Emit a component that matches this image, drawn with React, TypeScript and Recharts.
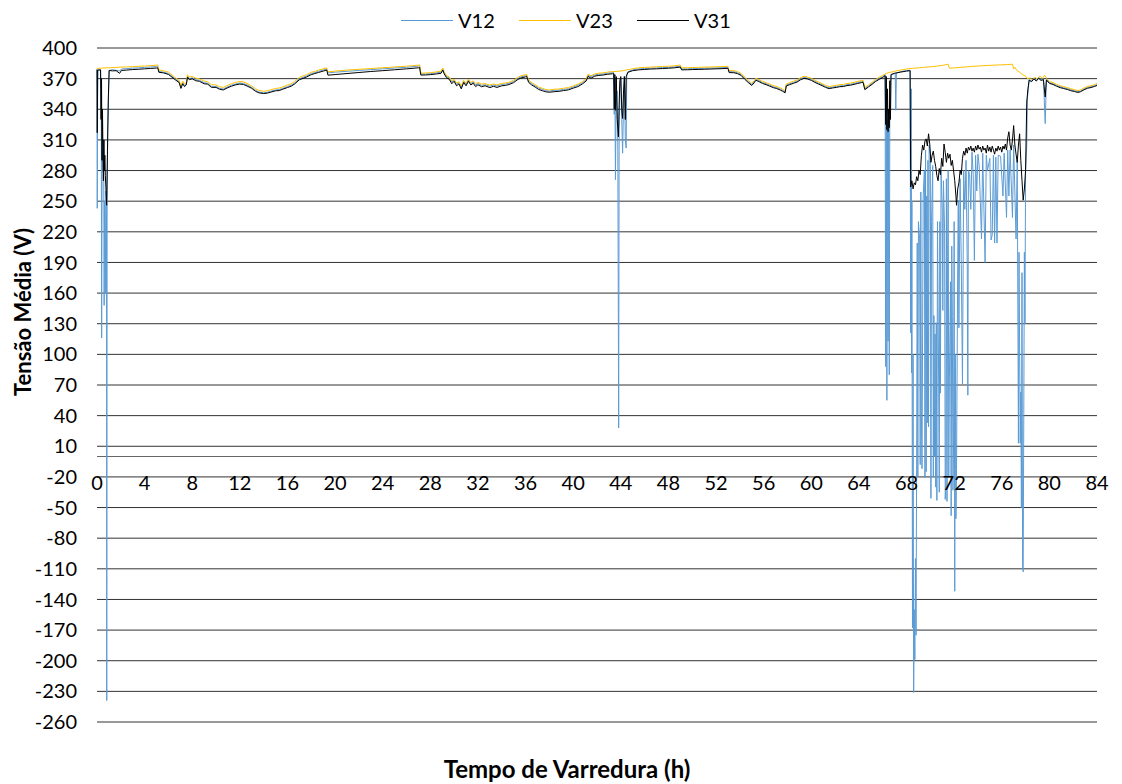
import React from 'react';
import { LineChart, Line, XAxis, YAxis, CartesianGrid, ReferenceLine, Legend } from 'recharts';

type Pt = [number, number];

const hourTicks = [0, 4, 8, 12, 16, 20, 24, 28, 32, 36, 40, 44, 48, 52, 56, 60, 64, 68, 72, 76, 80, 84];
const voltTicks = [400, 370, 340, 310, 280, 250, 220, 190, 160, 130, 100, 70, 40, 10, -20, -50, -80, -110, -140, -170, -200, -230, -260];

// [hora, tensão] — V23
const v23Points: Pt[] = [
  [0, 380], [0.5, 380.4], [1, 380.6], [1.5, 380.9], [2, 381.3], [2.5, 381.4], [3, 381.8], [3.5, 382.1], [4, 382.3], [4.5, 382.7],
  [5, 383.2], [5.1, 383.4], [5.2, 378.6], [5.6, 377.6], [6, 376.4], [6.3, 373.5], [6.6, 370.8], [6.9, 368.2], [7.05, 363], [7.2, 367.5],
  [7.35, 364.8], [7.5, 366], [7.6, 373.8], [7.75, 371.5], [8, 372.2], [8.3, 370.4], [8.6, 369.8], [9, 367.6], [9.3, 366.9], [9.6, 364.2],
  [10, 363.8], [10.3, 362.1], [10.6, 361.4], [11, 363.6], [11.3, 365.2], [11.6, 366.1], [12, 367.2], [12.3, 366.8], [12.6, 365.4], [13, 362.8],
  [13.3, 360.2], [13.6, 358.4], [14, 357.6], [14.3, 358.2], [14.6, 359.1], [15, 360.4], [15.3, 360.8], [15.6, 361.9], [16, 363.8], [16.3, 364.9],
  [16.6, 367.2], [17, 371.2], [17.3, 372.6], [17.6, 373.9], [18, 376.2], [18.3, 377.1], [18.6, 378.3], [19, 379.6], [19.3, 380.6], [19.4, 376.6],
  [20, 377.4], [20.5, 377.9], [21, 378.4], [21.5, 378.7], [22, 379.2], [22.5, 379.5], [23, 379.9], [23.5, 380.3], [24, 380.7], [24.5, 381],
  [25, 381.4], [25.5, 381.8], [26, 382.2], [26.5, 382.7], [27, 383.2], [27.1, 383.5], [27.2, 375.4], [27.6, 375.5], [28, 375.8], [28.5, 376.6],
  [28.9, 377.4], [29.05, 380.4], [29.15, 377], [29.35, 373.2], [29.6, 371.6], [29.8, 367.8], [30, 369.4], [30.2, 365.6], [30.4, 366.9], [30.6, 362.8],
  [30.8, 368.3], [31, 365.4], [31.2, 369.6], [31.4, 366.2], [31.6, 367.8], [31.8, 364.9], [32, 366.3], [32.3, 364.6], [32.6, 365.1], [33, 363.7],
  [33.3, 364.8], [33.6, 363.9], [34, 365.3], [34.3, 365.8], [34.6, 366.4], [35, 368.4], [35.3, 370.9], [35.6, 372.8], [36, 373.9], [36.1, 374.2],
  [36.25, 368.5], [36.5, 366.2], [36.8, 364.1], [37.1, 361.8], [37.4, 360.6], [37.7, 359.3], [38, 358.9], [38.4, 359.6], [38.8, 359.8], [39.2, 360.6],
  [39.6, 361.2], [40, 362.9], [40.4, 364.6], [40.8, 367.2], [41.1, 370.1], [41.25, 374.3], [41.5, 372.8], [41.8, 374.6], [42.1, 375.3], [42.5, 375.6],
  [42.9, 376.4], [43.3, 376.9], [43.7, 377.1], [44.1, 377.6], [44.5, 378.6], [45, 379.7], [45.5, 380.6], [46, 381], [46.5, 381.3], [47, 381.6],
  [47.5, 381.9], [48, 382.1], [48.5, 382.6], [49, 383.3], [49.1, 380.6], [49.6, 380.7], [50, 380.9], [50.5, 381], [51, 381.3], [51.5, 381.4],
  [52, 381.6], [52.5, 381.8], [53, 382.1], [53.1, 377.9], [53.5, 377.8], [53.8, 376.9], [54.1, 375.2], [54.4, 371.5], [54.7, 368.2], [55, 365.3],
  [55.2, 367.9], [55.35, 370.4], [55.6, 369.1], [55.9, 367.3], [56.2, 366.1], [56.5, 364.7], [56.8, 363.2], [57.1, 362.3], [57.4, 360.8], [57.6, 359.6],
  [57.8, 358.1], [57.9, 364.8], [58.2, 366.2], [58.5, 367.4], [58.8, 368.6], [59.1, 370.9], [59.4, 372.3], [59.7, 371.6], [60, 370.3], [60.3, 368.4],
  [60.6, 366.7], [60.9, 365.2], [61.2, 363.4], [61.5, 362.2], [61.8, 362.9], [62.1, 363.4], [62.4, 364.1], [62.7, 364.3], [63, 365.2], [63.3, 365.6],
  [63.6, 366.4], [63.9, 367.3], [64.2, 368.1], [64.35, 368.4], [64.5, 361.2], [64.8, 363.8], [65.1, 366.4], [65.4, 369.2], [65.7, 371.3], [66, 373.1],
  [66.3, 375.2], [66.6, 376.1], [67, 377.2], [67.5, 378.4], [68, 379.4], [68.5, 380.1], [69, 380.5], [69.5, 381.1], [70, 381.6], [70.5, 382.2],
  [71, 382.9], [71.5, 384.1], [71.6, 380.2], [72, 380.5], [72.5, 381], [73, 381.5], [73.5, 382], [74, 382.4], [74.5, 382.7], [75, 383],
  [75.5, 383.3], [76, 383.5], [76.5, 383.8], [76.9, 384.1], [77, 379.5], [77.1, 381.2], [77.25, 378.3], [77.5, 376.2], [77.8, 373.6], [78, 372.4],
  [78.2, 369.6], [78.4, 370.8], [78.6, 368.4], [78.8, 371.5], [79, 369.2], [79.2, 372.4], [79.4, 370.1], [79.6, 373.3], [79.8, 369.8], [80, 367.2],
  [80.3, 366.1], [80.6, 364.4], [80.9, 363.1], [81.2, 362.2], [81.5, 361.3], [81.8, 360.1], [82.1, 359.2], [82.4, 358.3], [82.6, 358.9], [82.9, 360.8],
  [83.2, 362.4], [83.5, 363.1], [83.8, 364.2], [84, 365.1],
];

// V12
const v12Points: Pt[] = [
  [0, 378.6], [0.02, 243], [0.06, 378.2], [0.3, 378.5], [0.36, 330], [0.39, 116], [0.43, 300], [0.5, 280], [0.56, 310], [0.6, 148],
  [0.64, 250], [0.7, 160], [0.74, 260], [0.8, 240], [0.82, -239], [0.85, 250], [0.9, 320], [0.96, 350], [1.02, 378], [1.3, 378.8],
  [1.9, 377.5], [2.05, 379.4], [2.5, 379.8], [3, 380.3], [3.5, 380.6], [4, 381], [4.5, 381.4], [5, 381.8], [5.1, 382], [5.2, 377],
  [5.6, 376.3], [6, 375], [6.3, 372.2], [6.6, 369.4], [6.9, 367], [7.05, 361.4], [7.2, 366], [7.35, 363.2], [7.5, 364.6], [7.6, 372.4],
  [7.75, 370], [8, 370.8], [8.3, 368.9], [8.6, 368.3], [9, 366], [9.3, 365.4], [9.6, 362.5], [10, 362.3], [10.3, 360.5], [10.6, 359.8],
  [11, 362.1], [11.3, 363.6], [11.6, 364.6], [12, 365.7], [12.3, 365.3], [12.6, 363.9], [13, 361.3], [13.3, 358.6], [13.6, 356.9], [14, 356.1],
  [14.3, 356.6], [14.6, 357.6], [15, 358.9], [15.3, 359.3], [15.6, 360.4], [16, 362.3], [16.3, 363.4], [16.6, 365.7], [17, 369.8], [17.3, 371.2],
  [17.6, 372.6], [18, 374.9], [18.3, 375.9], [18.6, 377.1], [19, 378.4], [19.3, 379.4], [19.4, 375.6], [20, 376.3], [21, 377.2], [22, 378],
  [23, 378.8], [24, 379.6], [25, 380.4], [26, 381.1], [27, 382.3], [27.1, 382.6], [27.2, 374.5], [27.6, 374.6], [28, 374.9], [28.5, 375.6],
  [28.9, 376.4], [29.05, 379.3], [29.15, 376], [29.35, 372.2], [29.6, 370.4], [29.8, 366.6], [30, 368.3], [30.2, 364.4], [30.4, 365.9], [30.6, 361.7],
  [30.8, 367.3], [31, 364.3], [31.2, 368.5], [31.4, 365.1], [31.6, 366.7], [31.8, 363.7], [32, 365.2], [32.3, 363.5], [32.6, 364], [33, 362.6],
  [33.3, 363.7], [33.6, 362.8], [34, 364.2], [34.3, 364.7], [34.6, 365.3], [35, 367.3], [35.3, 369.8], [35.6, 371.7], [36, 372.8], [36.1, 373.1],
  [36.25, 367.4], [36.5, 365.1], [36.8, 363], [37.1, 360.7], [37.4, 359.5], [37.7, 358.2], [38, 357.8], [38.4, 358.5], [38.8, 358.7], [39.2, 359.5],
  [39.6, 360.1], [40, 361.8], [40.4, 363.5], [40.8, 366.1], [41.1, 369], [41.25, 373.2], [41.5, 371.7], [41.8, 373.5], [42.1, 374.2], [42.5, 374.5],
  [42.9, 375.3], [43.3, 375.8], [43.4, 376], [43.45, 335], [43.5, 370], [43.55, 271], [43.6, 340], [43.68, 358], [43.75, 300], [43.82, 28],
  [43.86, 320], [43.92, 360], [44, 370], [44.08, 330], [44.15, 297], [44.22, 340], [44.3, 372], [44.38, 310], [44.45, 302], [44.5, 374],
  [44.6, 376.8], [45, 378.6], [45.5, 379.5], [46, 379.9], [46.5, 380.2], [47, 380.5], [47.5, 380.8], [48, 381], [48.5, 381.5], [49, 382.2],
  [49.1, 379.5], [49.6, 379.6], [50, 379.8], [50.5, 379.9], [51, 380.2], [51.5, 380.3], [52, 380.5], [52.5, 380.7], [53, 381], [53.1, 376.8],
  [53.5, 376.7], [53.8, 375.8], [54.1, 374.1], [54.4, 370.4], [54.7, 367.1], [55, 364.2], [55.2, 366.8], [55.35, 369.3], [55.6, 368], [55.9, 366.2],
  [56.2, 365], [56.5, 363.6], [56.8, 362.1], [57.1, 361.2], [57.4, 359.7], [57.6, 358.5], [57.8, 357], [57.9, 363.7], [58.2, 365.1], [58.5, 366.3],
  [58.8, 367.5], [59.1, 369.8], [59.4, 371.2], [59.7, 370.5], [60, 369.2], [60.3, 367.3], [60.6, 365.6], [60.9, 364.1], [61.2, 362.3], [61.5, 361.1],
  [61.8, 361.8], [62.1, 362.3], [62.4, 363], [62.7, 363.2], [63, 364.1], [63.3, 364.5], [63.6, 365.3], [63.9, 366.2], [64.2, 367], [64.35, 367.3],
  [64.5, 360.1], [64.8, 362.7], [65.1, 365.3], [65.4, 368.1], [65.7, 370.2], [66, 372], [66.2, 373.8], [66.25, 88], [66.3, 340], [66.35, 55],
  [66.4, 330], [66.45, 113], [66.5, 330], [66.55, 80], [66.6, 360], [66.7, 374], [67.05, 375], [67.1, 339], [67.15, 375.4], [67.5, 376.8],
  [68, 377.8], [68.3, 378], [68.35, 121], [68.4, 360], [68.42, 82], [68.45, 250], [68.5, -168], [68.55, 100], [68.6, -231], [68.65, -150],
  [68.7, -199], [68.75, -100], [68.8, -175], [68.85, -2], [68.9, 209], [68.95, -20], [69, 230], [69.1, 213], [69.15, -8], [69.2, 259],
  [69.25, 40], [69.3, -12], [69.4, 255], [69.5, 280], [69.55, -21], [69.6, 300], [69.65, -15], [69.7, 255], [69.75, 33], [69.8, 290],
  [69.85, 29], [69.9, 305], [70, 295], [70.05, -41], [70.1, 230], [70.2, 285], [70.25, -20], [70.3, 138], [70.35, 0], [70.4, 120],
  [70.45, -30], [70.5, 131], [70.55, -43], [70.6, 230], [70.7, 71], [70.75, -35], [70.8, 230], [70.85, 62], [70.9, 280], [71, 242],
  [71.05, 143], [71.1, 270], [71.2, 221], [71.25, -42], [71.3, -30], [71.35, 272], [71.4, -44], [71.45, 196], [71.5, 280], [71.55, -20],
  [71.6, 75], [71.7, 171], [71.75, -58], [71.8, 206], [71.85, 137], [71.9, -33], [71.95, 10], [72, 230], [72.05, -132], [72.1, 100],
  [72.15, -61], [72.2, -13], [72.3, 187], [72.35, 251], [72.4, 126], [72.5, 272], [72.6, 188], [72.7, 71], [72.8, 280], [72.9, 242],
  [73, 290], [73.1, 189], [73.15, 60], [73.2, 280], [73.3, 276], [73.4, 242], [73.5, 298], [73.6, 276], [73.7, 192], [73.8, 295],
  [73.9, 260], [74, 296], [74.1, 285], [74.3, 213], [74.4, 297], [74.6, 190], [74.7, 295], [74.8, 280], [75, 292], [75.1, 212],
  [75.2, 217], [75.3, 295], [75.4, 209], [75.5, 293], [75.6, 209], [75.7, 295], [75.9, 294], [76.1, 255], [76.2, 297], [76.4, 234],
  [76.5, 300], [76.6, 255], [76.7, 300], [76.9, 234], [77, 305], [77.2, 213], [77.3, 290], [77.4, 13], [77.45, 200], [77.55, 13],
  [77.6, 63], [77.65, -50], [77.7, 180], [77.75, -108], [77.8, -113], [77.85, 42], [77.9, 200], [77.95, 130], [78, 280], [78.1, 305],
  [78.15, 350], [78.3, 369], [78.5, 367.8], [78.7, 370.6], [78.9, 368.4], [79.1, 371.2], [79.3, 369], [79.5, 369.8], [79.65, 326], [79.75, 369.4],
  [80, 366.2], [80.3, 365.1], [80.6, 363.4], [80.9, 362.1], [81.2, 361.1], [81.5, 360.3], [81.8, 359.1], [82.1, 358.2], [82.4, 357.3], [82.6, 357.9],
  [82.9, 359.8], [83.2, 361.4], [83.5, 362.1], [83.8, 363.2], [84, 364.2],
];

// V31
const v31Points: Pt[] = [
  [0, 379], [0.02, 317], [0.06, 378.4], [0.3, 378.6], [0.34, 330], [0.38, 370], [0.42, 290], [0.46, 340], [0.5, 300], [0.54, 270],
  [0.58, 310], [0.62, 280], [0.66, 295], [0.7, 275], [0.76, 260], [0.81, 246], [0.88, 300], [0.95, 350], [1.02, 378], [1.3, 377.6],
  [1.6, 377.8], [1.9, 375.2], [2.05, 378], [2.5, 378.4], [3, 378.9], [3.5, 379.2], [4, 379.6], [4.5, 380], [5, 380.4], [5.1, 380.6],
  [5.2, 376.2], [5.6, 375.6], [6, 374.1], [6.3, 371.4], [6.6, 368.6], [6.9, 366.2], [7.05, 360.4], [7.2, 365], [7.35, 362.2], [7.5, 363.8],
  [7.6, 371.5], [7.75, 369], [8, 369.8], [8.3, 367.9], [8.6, 367.4], [9, 365], [9.3, 364.6], [9.6, 361.5], [10, 361.4], [10.3, 359.6],
  [10.6, 358.9], [11, 361.2], [11.3, 362.6], [11.6, 363.8], [12, 364.7], [12.3, 364.3], [12.6, 362.8], [13, 360.5], [13.3, 357.7], [13.6, 356.1],
  [14, 355.4], [14.3, 355.8], [14.6, 356.8], [15, 358.1], [15.3, 358.3], [15.6, 359.6], [16, 361.3], [16.3, 362.5], [16.6, 364.8], [17, 368.9],
  [17.3, 370.2], [17.6, 371.6], [18, 373.9], [18.3, 375], [18.6, 376], [19, 377.4], [19.3, 378.4], [19.4, 373.4], [20, 374], [21, 375],
  [22, 376], [23, 377], [24, 377.8], [25, 378.7], [26, 379.6], [27, 380.6], [27.1, 380.9], [27.2, 373.5], [27.6, 373.6], [28, 373.9],
  [28.5, 374.6], [28.9, 375.2], [29.05, 378.4], [29.15, 375], [29.35, 371], [29.6, 369.2], [29.8, 365], [30, 367.4], [30.2, 363], [30.4, 364.8],
  [30.6, 360], [30.8, 366.2], [31, 363], [31.2, 367.5], [31.4, 363.8], [31.6, 365.5], [31.8, 362.2], [32, 364], [32.3, 362.1], [32.6, 363],
  [33, 361.2], [33.3, 362.5], [33.6, 361.4], [34, 363], [34.3, 363.4], [34.6, 364.2], [35, 366.1], [35.3, 368.8], [35.6, 370.6], [36, 371.8],
  [36.1, 372.1], [36.25, 366.4], [36.5, 363.9], [36.8, 361.8], [37.1, 359.4], [37.4, 358.2], [37.7, 357.1], [38, 356.7], [38.4, 357.2], [38.8, 357.6],
  [39.2, 358.3], [39.6, 359], [40, 360.7], [40.4, 362.2], [40.8, 365], [41.1, 367.8], [41.25, 372.2], [41.5, 370.4], [41.8, 372.4], [42.1, 373.1],
  [42.5, 373.5], [42.9, 374.3], [43.3, 374.8], [43.4, 375], [43.45, 340], [43.5, 374], [43.55, 339], [43.62, 372], [43.7, 330], [43.8, 313],
  [43.86, 345], [43.92, 368], [44, 372], [44.08, 340], [44.15, 331], [44.22, 355], [44.3, 372], [44.38, 330], [44.45, 372], [44.6, 376.2],
  [45, 377.8], [45.5, 378.6], [46, 379], [46.5, 379.4], [47, 379.6], [47.5, 379.9], [48, 380.2], [48.5, 380.6], [49, 381.3], [49.1, 378.6],
  [49.6, 378.7], [50, 378.9], [50.5, 379], [51, 379.2], [51.5, 379.4], [52, 379.6], [52.5, 379.8], [53, 380.1], [53.1, 375.9], [53.5, 375.8],
  [53.8, 374.9], [54.1, 373.2], [54.4, 369.5], [54.7, 366.2], [55, 363.3], [55.2, 365.9], [55.35, 368.4], [55.6, 367.1], [55.9, 365.3], [56.2, 364.1],
  [56.5, 362.7], [56.8, 361.2], [57.1, 360.3], [57.4, 358.8], [57.6, 357.6], [57.8, 356.1], [57.9, 362.8], [58.2, 364.2], [58.5, 365.4], [58.8, 366.6],
  [59.1, 368.9], [59.4, 370.3], [59.7, 369.6], [60, 368.3], [60.3, 366.4], [60.6, 364.7], [60.9, 363.2], [61.2, 361.4], [61.5, 360.2], [61.8, 360.9],
  [62.1, 361.4], [62.4, 362.1], [62.7, 362.3], [63, 363.2], [63.3, 363.6], [63.6, 364.4], [63.9, 365.3], [64.2, 366.1], [64.35, 366.4], [64.5, 359.2],
  [64.8, 361.8], [65.1, 364.4], [65.4, 367.2], [65.7, 369.3], [66, 371.1], [66.2, 373], [66.25, 325], [66.3, 372], [66.35, 320], [66.4, 360],
  [66.45, 318], [66.5, 340], [66.55, 322], [66.6, 368], [66.65, 330], [66.7, 374], [67, 375.3], [67.5, 376.4], [68, 377.4], [68.3, 377.8],
  [68.35, 264], [68.45, 270], [68.55, 262], [68.65, 268], [68.75, 266], [68.85, 274], [68.95, 270], [69.05, 280], [69.15, 276], [69.25, 295],
  [69.35, 305], [69.45, 300], [69.55, 309], [69.65, 311], [69.75, 304], [69.85, 316], [69.95, 306], [70.05, 288], [70.15, 295], [70.25, 299],
  [70.35, 290], [70.45, 284], [70.55, 275], [70.65, 270], [70.75, 282], [70.85, 276], [70.95, 292], [71.05, 284], [71.15, 306], [71.25, 298],
  [71.35, 288], [71.45, 297], [71.55, 292], [71.65, 296], [71.75, 285], [71.85, 290], [71.95, 280], [72.05, 270], [72.15, 255], [72.2, 246],
  [72.3, 262], [72.4, 268], [72.5, 280], [72.6, 276], [72.7, 292], [72.8, 299], [72.9, 295], [73, 302], [73.1, 297], [73.2, 303],
  [73.3, 300], [73.4, 304], [73.5, 299], [73.6, 302], [73.7, 298], [73.8, 304], [73.9, 300], [74, 305], [74.1, 301], [74.2, 303],
  [74.3, 298], [74.4, 304], [74.5, 300], [74.6, 302], [74.7, 297], [74.8, 305], [74.9, 299], [75, 303], [75.1, 298], [75.2, 304],
  [75.3, 300], [75.4, 296], [75.5, 302], [75.6, 299], [75.7, 304], [75.8, 300], [75.9, 303], [76, 298], [76.1, 304], [76.2, 301],
  [76.3, 306], [76.4, 300], [76.5, 312], [76.6, 318], [76.7, 305], [76.8, 300], [76.9, 310], [77, 324], [77.1, 305], [77.2, 296],
  [77.3, 288], [77.4, 305], [77.5, 316], [77.6, 290], [77.7, 270], [77.8, 251], [77.9, 262], [78, 280], [78.1, 347], [78.2, 360],
  [78.3, 368.5], [78.5, 367], [78.7, 369.8], [78.9, 367.6], [79.1, 370.4], [79.3, 368.2], [79.5, 369], [79.65, 352], [79.75, 368.6], [80, 365.4],
  [80.3, 364.3], [80.6, 362.6], [80.9, 361.2], [81.2, 360.3], [81.5, 359.4], [81.8, 358.2], [82.1, 357.4], [82.4, 356.5], [82.6, 357.1], [82.9, 359],
  [83.2, 360.6], [83.5, 361.3], [83.8, 362.4], [84, 363.3],
];

const series = [
  { name: 'V12', color: '#5B9BD5', points: v12Points },
  { name: 'V23', color: '#FFC000', points: v23Points },
  { name: 'V31', color: '#000000', points: v31Points },
];

const FONT = 'Lato, "Open Sans", sans-serif';
const CHART_W = 1114;
const CHART_H = 776;
const PLOT_TOP = 40;
const PLOT_H = 674;
const Y_MIN = -260;
const Y_MAX = 400;
// where the 0 V line sits; the hour labels hang under it
const ZERO_Y = PLOT_TOP + (PLOT_H * Y_MAX) / (Y_MAX - Y_MIN);

const toRows = (pts: Pt[]) => pts.map(([h, v]) => ({ h, v }));

const HourTick = (props: any) => {
  const { x, payload } = props;
  return (
    <text x={x} y={ZERO_Y + 34} textAnchor="middle" fontSize={20} fontFamily={FONT} fill="#000">
      {payload.value}
    </text>
  );
};

const VoltTitle = () => (
  <text
    x={14}
    y={304}
    transform="rotate(-90, 14, 304)"
    textAnchor="middle"
    dominantBaseline="central"
    fontSize={22}
    fontWeight={700}
    fontFamily={FONT}
    fill="#000"
  >
    Tensão Média (V)
  </text>
);

const HourTitle = () => (
  <text x={559} y={770} textAnchor="middle" fontSize={24} fontWeight={700} fontFamily={FONT} fill="#000">
    Tempo de Varredura (h)
  </text>
);

const renderLegend = () => (
  <div
    style={{
      height: 40,
      display: 'flex',
      justifyContent: 'center',
      alignItems: 'flex-start',
      paddingLeft: 26,
      fontFamily: FONT,
      fontSize: 20,
      color: '#000',
    }}
  >
    {series.map((s) => (
      <div key={s.name} style={{ display: 'flex', alignItems: 'center', width: 118, height: 24 }}>
        <span style={{ display: 'inline-block', width: 52, borderTop: `1.5px solid ${s.color}`, marginRight: 5 }} />
        <span>{s.name}</span>
      </div>
    ))}
  </div>
);

export default function App() {
  return (
    <div style={{ width: CHART_W, height: CHART_H, fontFamily: FONT, background: '#fff' }}>
      <LineChart width={CHART_W} height={CHART_H} margin={{ top: 0, right: 25, bottom: 32, left: 0 }}>
        <Legend verticalAlign="top" content={renderLegend} wrapperStyle={{ left: 0, width: CHART_W, top: 0 }} />
        <CartesianGrid horizontal vertical={false} stroke="#333" strokeWidth={1} />
        <XAxis
          dataKey="h"
          type="number"
          domain={[0, 84]}
          ticks={hourTicks}
          interval={0}
          axisLine={false}
          tickLine={false}
          height={30}
          tick={<HourTick />}
          label={<HourTitle />}
          allowDuplicatedCategory={false}
        />
        <YAxis
          type="number"
          domain={[Y_MIN, Y_MAX]}
          ticks={voltTicks}
          interval={0}
          width={89}
          axisLine={false}
          tickLine={false}
          tickSize={0}
          tickMargin={20}
          tick={{ fontSize: 20, fontFamily: FONT, fill: '#000' }}
          label={<VoltTitle />}
        />
        <ReferenceLine y={0} stroke="#666" strokeWidth={1.2} />
        {series.map((s) => (
          <Line
            key={s.name}
            data={toRows(s.points)}
            dataKey="v"
            name={s.name}
            type="linear"
            stroke={s.color}
            strokeWidth={1}
            dot={false}
            activeDot={false}
            isAnimationActive={false}
            legendType="line"
          />
        ))}
      </LineChart>
    </div>
  );
}
